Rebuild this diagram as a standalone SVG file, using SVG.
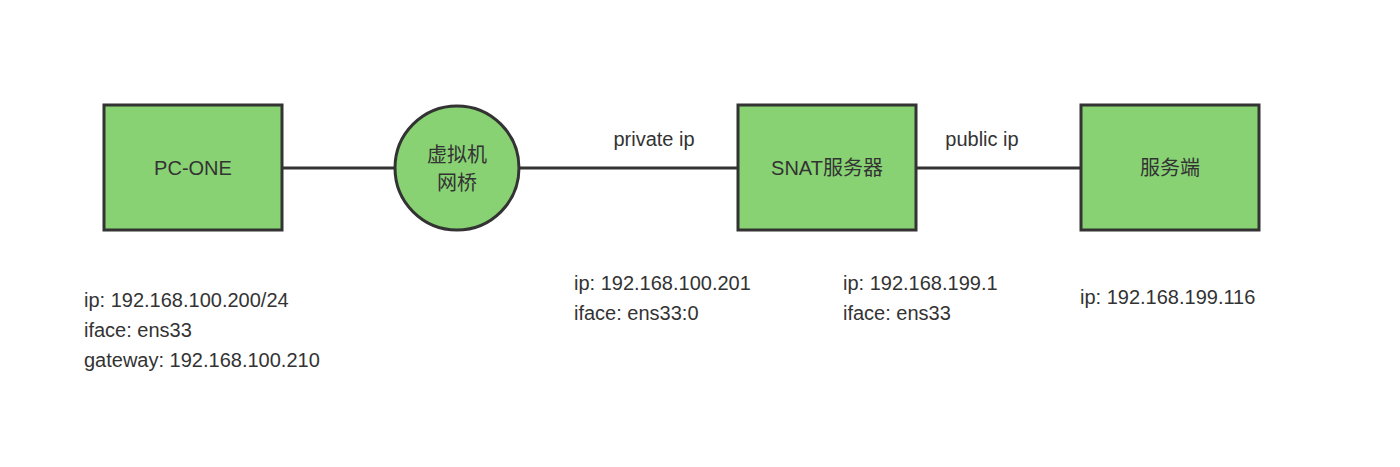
<svg xmlns="http://www.w3.org/2000/svg" width="1400" height="467" viewBox="0 0 1400 467">
<style>
.n{fill:#88d273;stroke:#333;stroke-width:3}
.c{stroke:#333;stroke-width:3;fill:none}
text{font-family:"Liberation Sans","Noto Sans CJK SC",sans-serif;font-size:20px;fill:#333}
.m{text-anchor:middle}
</style>
<rect width="1400" height="467" fill="#fff"/>
<g id="connectors">
<line class="c" x1="282" y1="168" x2="395" y2="168"/>
<line class="c" x1="520" y1="168" x2="738" y2="168"/>
<line class="c" x1="916" y1="168" x2="1081" y2="168"/>
<text class="m" x="654" y="146">private ip</text>
<text class="m" x="982" y="146">public ip</text>
</g>
<g id="pc"><rect class="n" x="104" y="105" width="178" height="125"/><text class="m" x="193" y="175">PC-ONE</text></g>
<g id="bridge"><circle class="n" cx="457" cy="168" r="62"/><text class="m" x="457" y="162">虚拟机</text><text class="m" x="457" y="190">网桥</text></g>
<g id="snat"><rect class="n" x="738" y="105" width="178" height="125"/><text class="m" x="827" y="175">SNAT服务器</text></g>
<g id="server"><rect class="n" x="1081" y="105" width="178" height="125"/><text class="m" x="1170" y="175">服务端</text></g>
<g id="labels">
<text x="84" y="307">ip: 192.168.100.200/24</text>
<text x="84" y="337">iface: ens33</text>
<text x="84" y="367">gateway: 192.168.100.210</text>
<text x="574" y="290">ip: 192.168.100.201</text>
<text x="574" y="320">iface: ens33:0</text>
<text x="843" y="290">ip: 192.168.199.1</text>
<text x="843" y="320">iface: ens33</text>
<text x="1080" y="304">ip: 192.168.199.116</text>
</g>
</svg>
